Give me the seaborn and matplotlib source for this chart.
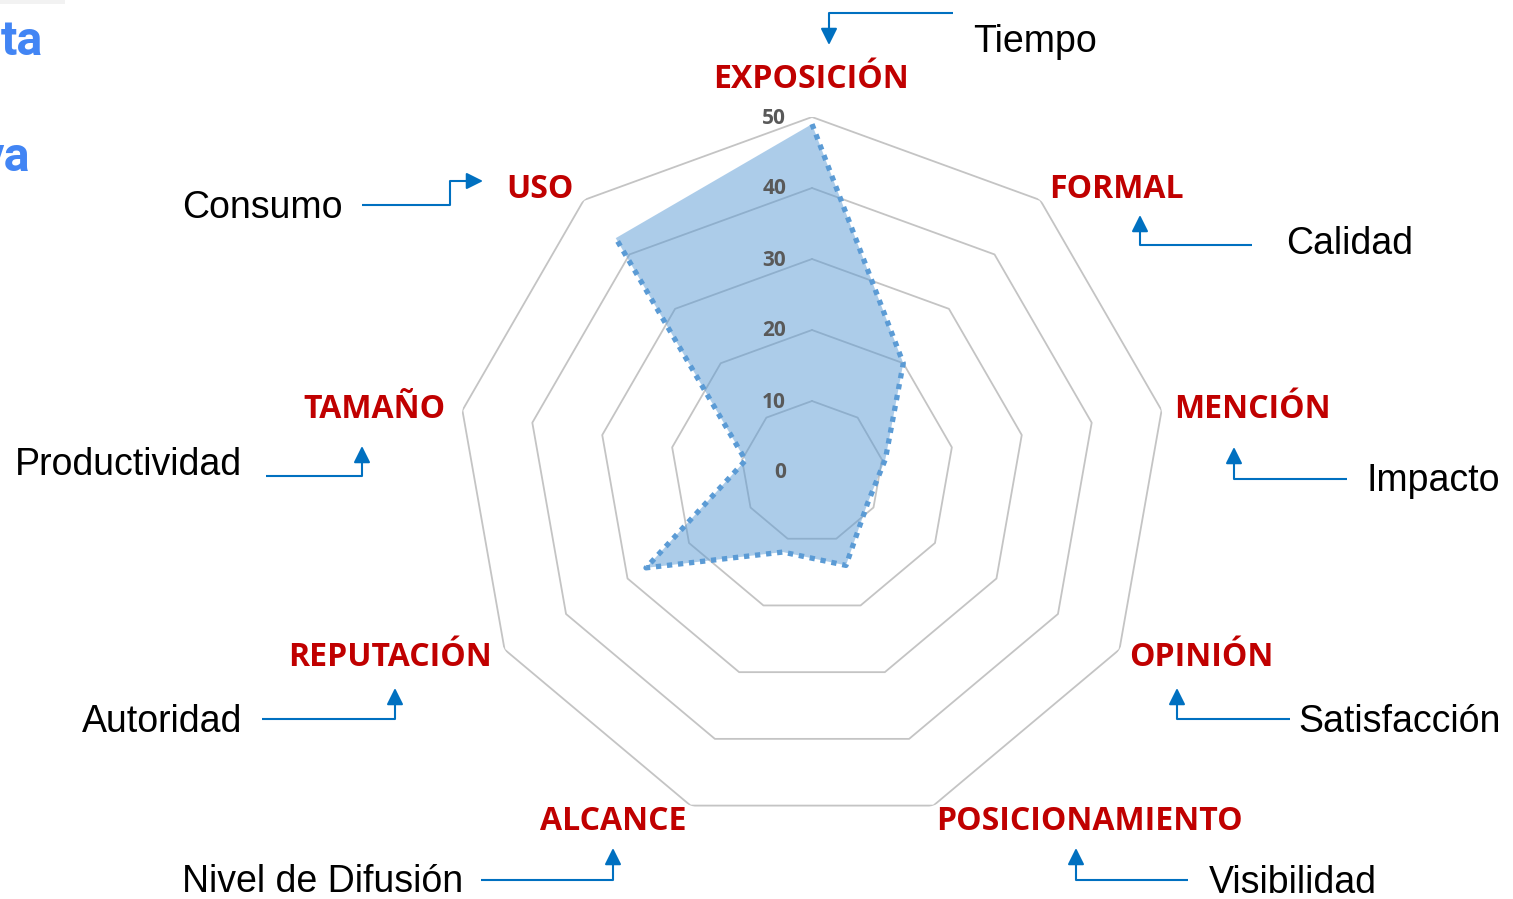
import numpy as np
import matplotlib
matplotlib.use("Agg")
import matplotlib.pyplot as plt
import matplotlib.transforms as mtransforms
from matplotlib.patches import Rectangle
import seaborn as sns

# datos del radar
categorias = ["EXPOSICIÓN", "FORMAL", "MENCIÓN", "OPINIÓN", "POSICIONAMIENTO",
              "ALCANCE", "REPUTACIÓN", "TAMAÑO", "USO"]
valores = [49, 20, 10.5, 9, 14, 12, 27, 9.5, 43]
niveles = [0, 10, 20, 30, 40, 50]
etiquetas_nivel = ["0", "10", "20", "30", "40", "50"]
significados = ["Tiempo", "Calidad", "Impacto", "Satisfacción", "Visibilidad",
                "Nivel de Difusión", "Autoridad", "Productividad", "Consumo"]

sns.set_theme(style="white")
plt.rcParams["font.family"] = ["Liberation Sans", "DejaVu Sans"]

ROJO = "#C00000"
AZUL = "#0070C0"
W, H = 1513, 899

fig = plt.figure(figsize=(W / 100, H / 100), dpi=100)

# capa de fondo para textos y flechas (coordenadas en pixeles)
ov = fig.add_axes([0, 0, 1, 1])
ov.set_xlim(0, W)
ov.set_ylim(H, 0)
ov.axis("off")

# radar
cx, cy, rad = 812, 472, 355
ax = fig.add_axes([(cx - rad) / W, (H - cy - rad) / H, 2 * rad / W, 2 * rad / H],
                  projection="polar")
ax.set_theta_offset(np.pi / 2)
ax.set_theta_direction(-1)
ax.set_facecolor("none")
ax.grid(False)
ax.spines["polar"].set_visible(False)
ax.set_xticks([])
ax.set_yticks([])

angulos = np.linspace(0, 2 * np.pi, len(categorias), endpoint=False)
ang_c = np.append(angulos, angulos[0])

for r in niveles[1:]:
    ax.plot(ang_c, [r] * len(ang_c), color="#c4c4c4", lw=1.3, zorder=1)

vals_c = np.append(valores, valores[0])
ax.fill(ang_c, vals_c, color="#5B9BD5", alpha=0.5, lw=0, zorder=2)
sns.lineplot(x=ang_c, y=vals_c, ax=ax, sort=False, color="#5B9BD5", lw=3.8,
             linestyle=(0, (1, 1.1)), dash_capstyle="butt", zorder=3)
ax.set_xlabel("")
ax.set_ylabel("")
ax.set_ylim(0, 50)

tr = mtransforms.offset_copy(ax.transData, fig=fig, x=-26, y=-1, units="dots")
for r, lbl in zip(niveles, etiquetas_nivel):
    ax.text(0, r, lbl, transform=tr, ha="right", va="center", fontsize=15,
            fontweight="bold", color="#595959", family="Open Sans", zorder=4)

# etiquetas de categoria
pos_cat = [(811, 79), (1116, 190), (1252, 409), (1201, 658), (1089, 821),
           (613, 821), (390, 658), (374, 409), (540, 190)]
for (x, y), c in zip(pos_cat, categorias):
    ov.text(x, y, c, ha="center", va="center", fontsize=23, fontweight="bold",
            color=ROJO, family="Open Sans")

# significados con flechas
pos_sig = [(973, 42), (1286, 244), (1366, 481), (1298, 722), (1209, 883),
           (182, 882), (82, 722), (15, 465), (182, 208)]
for (x, y), s in zip(pos_sig, significados):
    ov.text(x, y, s, ha="left", va="center", fontsize=27, color="black")

flechas = [
    [(953, 13), (829, 13), (829, 45)],
    [(1252, 245), (1140, 245), (1140, 215)],
    [(1347, 479), (1234, 479), (1234, 447)],
    [(1290, 719), (1177, 719), (1177, 688)],
    [(1188, 880), (1076, 880), (1076, 848)],
    [(481, 880), (613, 880), (613, 848)],
    [(262, 719), (395, 719), (395, 688)],
    [(266, 476), (362, 476), (362, 446)],
    [(362, 205), (450, 205), (450, 181), (483, 181)],
]
for f in flechas:
    xs, ys = zip(*f[:-1])
    ov.plot(xs, ys, color=AZUL, lw=1.5, solid_capstyle="butt")
    ov.annotate("", xy=f[-1], xytext=f[-2],
                arrowprops=dict(arrowstyle="-|>,head_length=1.0,head_width=0.5",
                                color=AZUL, lw=1.5, shrinkA=0, shrinkB=0,
                                mutation_scale=10))

# restos de titulo cortado a la izquierda
ov.add_patch(Rectangle((0, 0), 65, 4, color="#f2f2f2", lw=0))
ov.text(43, 55, "ta", ha="right", va="baseline", fontsize=35, fontweight="bold",
        color="#4285F4", family="Roboto")
ov.text(30, 171, "va", ha="right", va="baseline", fontsize=35, fontweight="bold",
        color="#4285F4", family="Roboto")

fig.savefig("out.png", dpi=100)
